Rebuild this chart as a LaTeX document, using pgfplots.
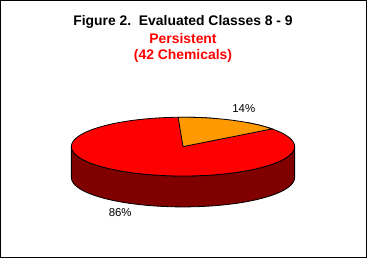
\documentclass[border=0pt]{standalone}
\usepackage{pgfplots}
\usepackage{pgfplotstable}
\pgfplotsset{compat=1.18}
\usepackage{fontspec}
\setmainfont{Liberation Sans}
\definecolor{pieorange}{HTML}{FF9900}
\definecolor{piered}{HTML}{FF0000}
\definecolor{piedark}{HTML}{800000}
\pgfplotstableread{
label value
A 14
B 86
}\piedata
\pgfplotstablegetelem{0}{value}\of\piedata \let\vA\pgfplotsretval
\pgfplotstablegetelem{1}{value}\of\piedata \let\vB\pgfplotsretval
\pgfmathsetmacro{\angA}{90-3.6*\vA}
\pgfmathsetmacro{\angB}{\angA-3.6*\vB}
\def\cx{183}\def\cyt{111.5}\def\ra{112}\def\rb{29.5}\def\cyb{80.5}
\begin{document}
\begin{tikzpicture}
\begin{axis}[
  scale only axis, width=367bp, height=258bp,
  xmin=0, xmax=367, ymin=0, ymax=258,
  xtick=\empty, ytick=\empty,
  axis line style={line width=1.2bp},
  clip=false,
]
% side wall
\addplot[fill=piedark, draw=black, line width=0.8bp, domain=180:540, samples=361, variable=\t]
  ({\t<=360 ? \cx+\ra*cos(\t) : \cx+\ra*cos(720-\t)},
   {\t<=360 ? \cyb+\rb*sin(\t) : \cyt+\rb*sin(720-\t)}) -- cycle;
% red sector
\addplot[fill=piered, draw=black, line width=0.8bp, domain=-0.1:1.1, samples=241, variable=\t]
  ({(\t<-0.05 || \t>1.05) ? \cx : \cx+\ra*cos(\angA+\t*(\angB-\angA))},
   {(\t<-0.05 || \t>1.05) ? \cyt : \cyt+\rb*sin(\angA+\t*(\angB-\angA))});
% orange sector
\addplot[fill=pieorange, draw=black, line width=0.8bp, domain=-0.1:1.1, samples=121, variable=\t]
  ({(\t<-0.05 || \t>1.05) ? \cx : \cx+\ra*cos(90+\t*(\angA-90))},
   {(\t<-0.05 || \t>1.05) ? \cyt : \cyt+\rb*sin(90+\t*(\angA-90))});
\node[font=\bfseries\fontsize{14}{16}\selectfont] at (axis cs:183,236.3) {Figure 2.\ \ Evaluated Classes 8 - 9};
\node[font=\bfseries\fontsize{14}{16}\selectfont, text=piered] at (axis cs:183,219.7) {Persistent};
\node[font=\bfseries\fontsize{14}{16}\selectfont, text=piered] at (axis cs:183,203) {(42 Chemicals)};
\node[font=\fontsize{11.5}{13}\selectfont] at (axis cs:244,150) {\vA\%};
\node[font=\fontsize{11.5}{13}\selectfont] at (axis cs:120,45) {\vB\%};
\end{axis}
\end{tikzpicture}
\end{document}
